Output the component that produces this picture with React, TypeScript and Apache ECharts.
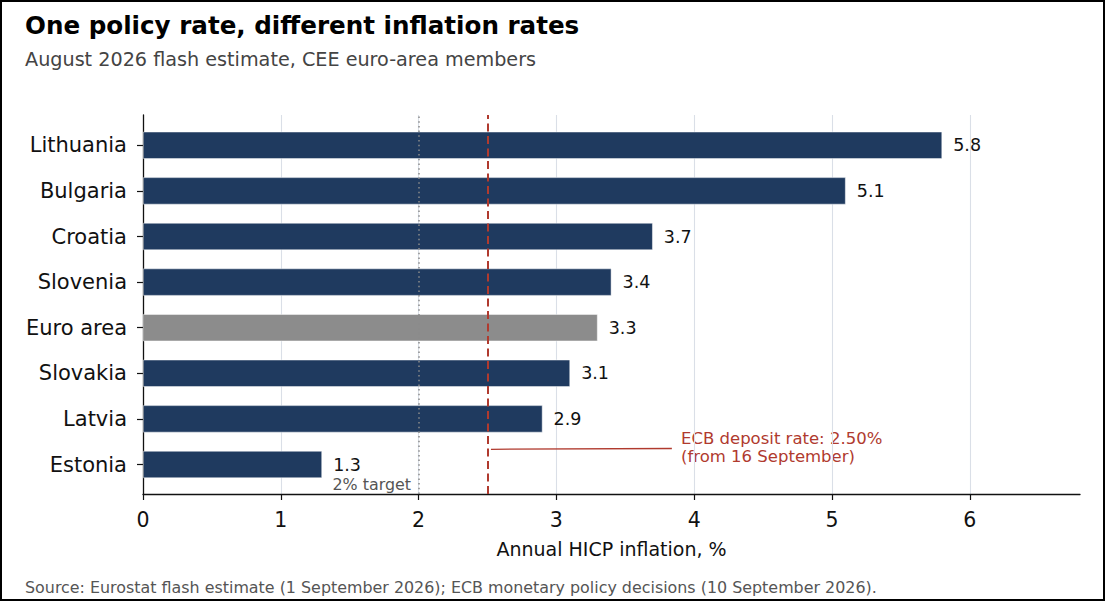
import React, { useEffect, useRef } from "react";
import * as echarts from "echarts";

const categories = ["Lithuania", "Bulgaria", "Croatia", "Slovenia", "Euro area", "Slovakia", "Latvia", "Estonia"];
const values = [5.8, 5.1, 3.7, 3.4, 3.3, 3.1, 2.9, 1.3];
const highlightCategory = "Euro area";
const xTicks = [0, 1, 2, 3, 4, 5, 6];
const xMin = 0;
const xMax = 6.8;
const xInterval = 1;
const inflationTarget = 2;
const depositRate = 2.5;
const annotationLine = [
  [2.525, 0.118],
  [3.838, 0.12],
];

const FONT = "DejaVu Sans";
const NAVY = "#1f3a5f";
const GREY_BAR = "#8c8c8c";
const RED = "#b03a2e";

export default function App() {
  const ref = useRef<HTMLDivElement>(null);

  useEffect(() => {
    if (!ref.current) return;
    document.body.style.margin = "0";
    const chart = echarts.init(ref.current, undefined, { renderer: "svg" });

    const plotLeft = 143;
    const plotRight = 1106 - 1080;
    const plotTop = 115;
    const plotBottomY = 494;
    const band = 45.6;
    const barTop = 145.3 - band / 2;

    const option: any = {
      animation: false,
      backgroundColor: "#ffffff",
      textStyle: { fontFamily: FONT },
      grid: [
        { left: plotLeft, right: plotRight, top: plotTop, height: plotBottomY - plotTop },
        { left: plotLeft, right: plotRight, top: barTop, height: band * categories.length },
      ],
      xAxis: [
        {
          type: "value",
          gridIndex: 0,
          min: xMin,
          max: xMax,
          interval: xInterval,
          axisLine: { show: true, lineStyle: { color: "#111", width: 1.3 } },
          axisTick: { show: true, length: 6, customValues: xTicks, lineStyle: { color: "#111", width: 1.2 } },
          axisLabel: {
            fontSize: 20.5,
            color: "#111",
            margin: 15,
            fontFamily: FONT,
            customValues: xTicks,
          },
          splitLine: { show: true, showMinLine: false, lineStyle: { color: "#dadfe7", width: 1.1 } },
        },
        {
          type: "value",
          gridIndex: 1,
          min: xMin,
          max: xMax,
          show: false,
        },
      ],
      yAxis: [
        {
          type: "value",
          gridIndex: 0,
          min: 0,
          max: 1,
          axisLine: { show: true, lineStyle: { color: "#111", width: 1.3 } },
          axisTick: { show: false },
          axisLabel: { show: false },
          splitLine: { show: false },
        },
        {
          type: "category",
          gridIndex: 1,
          data: categories,
          inverse: true,
          axisLine: { show: false },
          axisTick: { show: true, alignWithLabel: true, length: 6, lineStyle: { color: "#111", width: 1.2 } },
          axisLabel: { fontSize: 21, color: "#111", margin: 16, fontFamily: FONT },
          splitLine: { show: false },
        },
      ],
      series: [
        {
          type: "bar",
          xAxisIndex: 1,
          yAxisIndex: 1,
          barWidth: "60%",
          z: 2,
          data: values.map((v, i) => ({
            value: v,
            itemStyle: {
              color: categories[i] === highlightCategory ? GREY_BAR : NAVY,
              borderColor: "rgba(255,255,255,0.6)",
              borderWidth: 0.8,
            },
          })),
          label: {
            show: true,
            position: "right",
            distance: 11,
            fontSize: 17.5,
            color: "#111",
            fontFamily: FONT,
            formatter: (p: any) => Number(p.value).toFixed(1),
          },
        },
        {
          type: "line",
          xAxisIndex: 0,
          yAxisIndex: 0,
          z: 5,
          data: [[inflationTarget, 0]],
          showSymbol: false,
          symbol: "none",
          lineStyle: { opacity: 0 },
          silent: true,
          markLine: {
            silent: true,
            symbol: ["none", "none"],
            label: { show: false },
            data: [
              { xAxis: inflationTarget, lineStyle: { color: "#8a8a8a", width: 1.5, type: [1.5, 3.2] } },
              { xAxis: depositRate, lineStyle: { color: RED, width: 2, type: [8, 4.5] } },
              [
                { coord: annotationLine[0], lineStyle: { color: RED, width: 1.3, type: "solid" } },
                { coord: annotationLine[1] },
              ],
            ],
          },
        },
      ],
      graphic: [
        {
          type: "rect",
          shape: { x: 1, y: 1, width: 1103, height: 599 },
          style: { fill: "none", stroke: "#000", lineWidth: 2 },
          silent: true,
          z: 100,
        },
        {
          type: "text",
          x: 25,
          y: 25.5,
          style: {
            text: "One policy rate, different inflation rates",
            font: `bold 24.6px "${FONT}"`,
            fill: "#000",
            textVerticalAlign: "middle",
          },
        },
        {
          type: "text",
          x: 25,
          y: 59.5,
          style: {
            text: "August 2026 flash estimate, CEE euro-area members",
            font: `19.2px "${FONT}"`,
            fill: "#444",
            textVerticalAlign: "middle",
          },
        },
        {
          type: "text",
          x: 611.5,
          y: 548.5,
          style: {
            text: "Annual HICP inflation, %",
            font: `19px "${FONT}"`,
            fill: "#111",
            textAlign: "center",
            textVerticalAlign: "middle",
          },
        },
        {
          type: "text",
          x: 25,
          y: 587,
          style: {
            text: "Source: Eurostat flash estimate (1 September 2026); ECB monetary policy decisions (10 September 2026).",
            font: `15.9px "${FONT}"`,
            fill: "#555",
            textVerticalAlign: "middle",
          },
        },
        {
          type: "text",
          x: 411,
          y: 484,
          style: {
            text: "2% target",
            font: `15.9px "${FONT}"`,
            fill: "#555",
            textAlign: "right",
            textVerticalAlign: "middle",
          },
        },
        {
          type: "text",
          x: 681,
          y: 438.5,
          style: {
            text: "ECB deposit rate: 2.50%",
            font: `16.5px "${FONT}"`,
            fill: RED,
            textVerticalAlign: "middle",
          },
        },
        {
          type: "text",
          x: 681,
          y: 456,
          style: {
            text: "(from 16 September)",
            font: `16.5px "${FONT}"`,
            fill: RED,
            textVerticalAlign: "middle",
          },
        },
      ],
    };

    chart.setOption(option);
    return () => chart.dispose();
  }, []);

  return (
    <div
      ref={ref}
      style={{ position: "absolute", left: 0, top: 0, width: 1106, height: 602, background: "#fff" }}
    />
  );
}
